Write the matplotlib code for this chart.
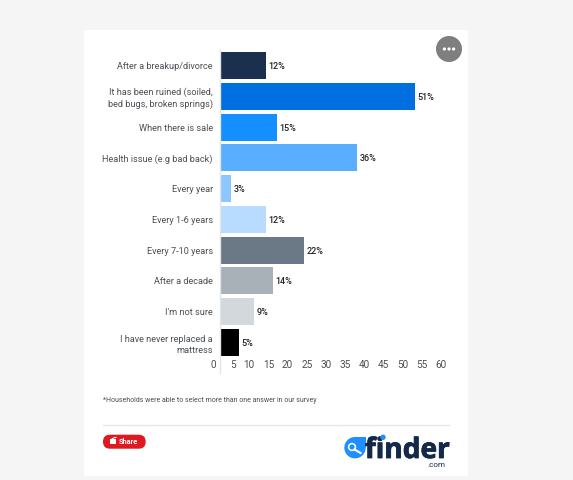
import matplotlib
matplotlib.use('Agg')
import matplotlib.pyplot as plt
import matplotlib.patheffects as pe
from matplotlib.patches import Rectangle, Circle, FancyBboxPatch, Polygon

W, H = 573, 480
categories = ['After a breakup/divorce', 'It has been ruined (soiled,\nbed bugs, broken springs)',
              'When there is sale', 'Health issue (e.g bad back)', 'Every year', 'Every 1-6 years',
              'Every 7-10 years', 'After a decade', "I'm not sure", 'I have never replaced a\nmattress']
values = [12, 51, 15, 36, 3, 12, 22, 14, 9, 5]
colors = ['#1b304f', '#0070e0', '#148fff', '#5aaeff', '#8cc6ff', '#b8dcff',
          '#6b7885', '#a8b0b8', '#d3d8dc', '#000000']
ticks = list(range(0, 61, 5))
note = '*Households were able to select more than one answer in our survey'

plt.rcParams['font.family'] = ['Roboto', 'DejaVu Sans']
fig = plt.figure(figsize=(W / 100, H / 100), dpi=100, facecolor='#f5f5f5')

bg = fig.add_axes([0, 0, 1, 1], zorder=0)
bg.set_xlim(0, W); bg.set_ylim(H, 0); bg.axis('off')
bg.add_patch(Rectangle((84, 30), 384, 446, fc='white', ec='none'))
bg.plot([103, 449], [424.5, 424.5], color='#e4e6e8', lw=1)

# menu button
bg.add_patch(Circle((449, 49), 13, fc='#7f7f7f', ec='none'))
for dx in (-4.6, 0, 4.6):
    bg.add_patch(Circle((449 + dx, 49), 1.6, fc='white', ec='none'))

# footnote
bg.text(103, 400, note, fontsize=5.05, color='#4a4f54', va='center', ha='left')

# share button
bg.add_patch(FancyBboxPatch((103, 434.7), 42.7, 14, boxstyle='round,pad=0,rounding_size=7',
                            fc='#dc1a1f', ec='none'))
bg.add_patch(Rectangle((110, 439), 6, 4.6, fc='white', ec='none'))
bg.plot([112, 114.5, 116], [439, 437.5, 437.5], color='white', lw=0.8)
bg.text(119, 441.7, 'Share', fontsize=5.3, color='white', va='center', ha='left', fontweight='bold')

# finder logo
bg.add_patch(Circle((355, 447.7), 10.7, fc='#1f8fff', ec='none', zorder=2))
bg.add_patch(Polygon([(355, 437), (365.7, 437), (365.7, 447.7)], fc='#1f8fff', ec='none', zorder=2))
bg.add_patch(Circle((352, 447), 3.4, fc='none', ec='white', lw=1.1, zorder=3))
bg.plot([354.5, 360.5], [449.5, 453], color='white', lw=1.5, zorder=3)
logo = bg.text(449.5, 458, 'finder', fontsize=20.2, fontweight='bold', color='#14284a',
               ha='right', va='baseline', family=['Open Sans', 'DejaVu Sans'], zorder=3)
logo.set_path_effects([pe.withStroke(linewidth=0.6, foreground='#14284a')])
bg.add_patch(Circle((383, 437.3), 2.7, fc='#1f8fff', ec='none', zorder=4))
bg.text(445, 465, '.com', fontsize=5.8, color='#14284a', ha='right', va='center', zorder=3)

# chart axes: x 219.5 -> 449.5 px for 0-60
top, bottom = 49, 373
step = 30.78
c0 = 65.5
ax = fig.add_axes([219.5 / W, 1 - bottom / H, 230 / W, (bottom - top) / H], zorder=1)
ax.patch.set_alpha(0)
ax.set_xlim(0, 60)
ax.set_ylim((bottom - c0) / step, (top - c0) / step)
ypos = list(range(len(values)))
ax.barh(ypos, values, height=27 / step, color=colors, edgecolor='none')
for y, v in zip(ypos, values):
    ax.annotate(f'{v}%', (v, y), xytext=(1.8, -0.7), textcoords='offset points',
                fontsize=6.5, fontweight='medium', color='#222222', va='center', ha='left')
for s in ('top', 'right', 'bottom'):
    ax.spines[s].set_visible(False)
ax.spines['left'].set_color('#e3e5e7')
ax.spines['left'].set_linewidth(1)
ax.set_yticks(ypos)
ax.set_yticklabels(categories, fontsize=6.55, color='#4a4f54', linespacing=1.3, ha='right')
ax.tick_params(axis='y', length=0, pad=4.8)
ax.set_xticks(ticks)
ax.set_xticklabels([str(t) for t in ticks], fontsize=7.2, color='#4a4f54', ha='right')
ax.tick_params(axis='x', length=0, pad=-9)
for lab in ax.get_xticklabels():
    lab.set_transform(lab.get_transform() + matplotlib.transforms.ScaledTranslation(-3 / 100, 0, fig.dpi_scale_trans))
for lab in ax.get_yticklabels():
    lab.set_multialignment('right')

fig.savefig('out.png', dpi=100, facecolor=fig.get_facecolor())
